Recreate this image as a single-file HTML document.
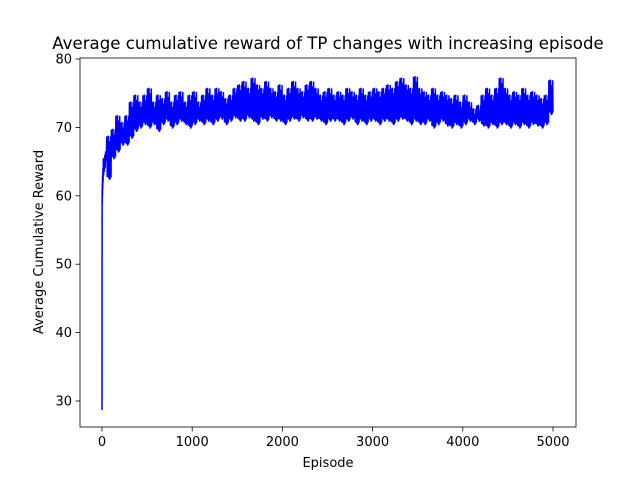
<!DOCTYPE html>
<html><head><meta charset="utf-8"><style>
body{margin:0;background:#fff}
svg{display:block;font-family:"DejaVu Sans","Liberation Sans",sans-serif}
</style></head><body>
<svg id="chart" width="640" height="480">
<rect width="640" height="480" fill="#fff"/>
<text x="328" y="49" font-size="16.6" text-anchor="middle">Average cumulative reward of TP changes with increasing episode</text>
<g id="plot"></g>
<rect x="80" y="58" width="496" height="369" fill="none" stroke="#000" stroke-width="0.8"/>
<g id="xt"></g><g id="yt"></g>
<text x="328" y="467" font-size="13" text-anchor="middle">Episode</text>
<text transform="translate(43,242) rotate(-90)" font-size="13" text-anchor="middle">Average Cumulative Reward</text>
</svg>
<script>
const earlyEpisodes=[0,1,2,3,4,5,6,8,10,12,15,18,20,25,30,35,40,45,50];
const earlyValues=[28.7,58,61,59,62,60,63,61,64,62,65.5,63,65,63.5,66,64,66.5,65,67];
const binStart=50, binSize=50;
const binHi=[69,70,72,71,72,74,75,74,75,76,74,75,74.5,75.5,74,75,75.5,74,75,75.5,74,75,76,75,76,75.5,74.5,75,76,76.5,
77,76,77.5,76.5,76,77,76,75.5,76.5,75,76,77,76,75.5,76.5,77,76,75,75.5,76,
75,75.5,75,76,75.5,75,76,75,75.5,76,75.5,76,76.5,76,77,77.5,76.5,76,77.7,76,
75.5,75,76,75,75.5,75,74.5,75,74,75,74,73,73.5,75,76,75,76,77.5,76,75,75.5,75,76,75,75.5,75,74.5,75,77.2];
const binLo=[62,65,66,67,67,68,69,69.5,70,69.5,70,69,70,70.5,69.5,70,70.5,70,69.5,70,70.5,70,70.5,70,70.5,70.8,70,70.5,71,70.5,
70.5,71,70.5,70,70.8,70.5,71,70.5,70.5,70,70.5,70.8,70.5,71,70.5,70.5,70.8,70.5,70,70.5,
70.5,70.5,70,70.5,70.8,70,70.5,70,70.5,70.5,70,70.5,70.5,70,70.5,70.8,70.5,70,70.5,70,
70,70.5,69.5,70,70.5,69.8,69.5,70,69.5,70,70.5,70,70.5,69.8,69.5,70,69.5,70,70,69.5,70,69.5,70,69.5,70,69.8,69.5,70,71.5];
const xTicks=[0,1000,2000,3000,4000,5000];
const yTicks=[30,40,50,60,70,80];
const X=v=>102+v*(553-102)/5000;
const Y=v=>401-(v-30)*(401-59)/50;
const NS="http://www.w3.org/2000/svg";
let pts=[];
earlyEpisodes.forEach((e,i)=>pts.push([X(e),Y(earlyValues[i])]));
const offs=[0.3,0.9,0.5,1.2,0.2,0.7,1.5,0.4,1.0,0.6];
binHi.forEach((h,i)=>{
  const e=binStart+i*binSize, l=binLo[i], n=12;
  for(let k=0;k<n;k++){
    const o=offs[k%offs.length];
    const v=(k%2===0)?(h-o):(l+o*0.8);
    pts.push([X(e+(k+1)*binSize/n),Y(v)]);
  }
});
const pl=document.createElementNS(NS,"polyline");
pl.setAttribute("points",pts.map(p=>p[0].toFixed(2)+","+p[1].toFixed(2)).join(" "));
pl.setAttribute("fill","none");pl.setAttribute("stroke","#0000ff");pl.setAttribute("stroke-width","1.5");


document.getElementById("plot").appendChild(pl);
const xt=document.getElementById("xt");
xTicks.forEach(t=>{
  const l=document.createElementNS(NS,"line");
  l.setAttribute("x1",X(t));l.setAttribute("x2",X(t));l.setAttribute("y1",427);l.setAttribute("y2",431.5);l.setAttribute("stroke","#000");l.setAttribute("stroke-width","0.8");
  
  
  xt.appendChild(l);
  const s=document.createElementNS(NS,"text");
  s.setAttribute("x",X(t));s.setAttribute("y",446);s.setAttribute("font-size","13");s.setAttribute("text-anchor","middle");s.textContent=t;
  
  
  xt.appendChild(s);
});
const yt=document.getElementById("yt");
yTicks.forEach(t=>{
  const l=document.createElementNS(NS,"line");
  l.setAttribute("x1",75.5);l.setAttribute("x2",80);l.setAttribute("y1",Y(t));l.setAttribute("y2",Y(t));l.setAttribute("stroke","#000");l.setAttribute("stroke-width","0.8");
  
  
  yt.appendChild(l);
  const s=document.createElementNS(NS,"text");
  s.setAttribute("x",72);s.setAttribute("y",Y(t)+4.5);s.setAttribute("font-size","13");s.setAttribute("text-anchor","end");s.textContent=t;
  
  
  yt.appendChild(s);
});
</script>
</body></html>
